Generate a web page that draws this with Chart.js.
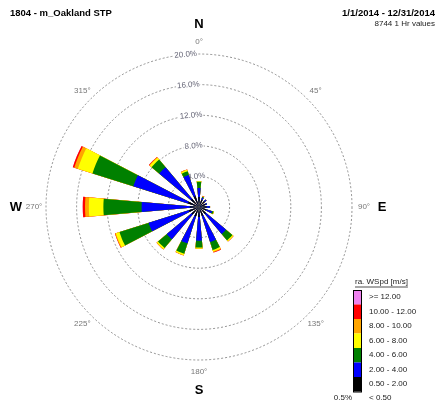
<!DOCTYPE html>
<html>
<head>
<meta charset="utf-8">
<script src="https://cdn.jsdelivr.net/npm/chart.js@4.4.0/dist/chart.umd.min.js"></script>
<style>
  html, body { margin: 0; padding: 0; background: #fff; }
  #wrap { width: 438px; height: 407px; }
</style>
</head>
<body>
<div id="wrap"><canvas id="rose" width="438" height="407"></canvas></div>
<script>
// wind directions, clockwise from north
const directions = ['N', 'NNE', 'NE', 'ENE', 'E', 'ESE', 'SE', 'SSE', 'S', 'SSW', 'SW', 'WSW', 'W', 'WNW', 'NW', 'NNW'];

// frequency (%) per speed class, per direction
const spd0520 = [1.3, 1.0, 1.0, 0.9, 1.0, 1.0, 1.2, 1.2, 1.3, 1.3, 1.3, 1.4, 1.2, 1.5, 1.4, 1.5];
const spd2040 = [1.2, 0.3, 0.3, 0.2, 0.4, 0.8, 3.4, 3.6, 3.1, 3.7, 4.2, 5.5, 6.3, 7.5, 5.4, 2.9];
const spd4060 = [0.8, 0.1, 0, 0, 0.05, 0.2, 1.1, 1.1, 0.9, 1.4, 1.5, 4.0, 5.0, 5.6, 1.3, 0.5];
const spd6080 = [0.1, 0.05, 0, 0, 0, 0.05, 0.15, 0.2, 0.15, 0.2, 0.2, 0.5, 1.9, 2.0, 0.3, 0.2];
const spd8010 = [0, 0.05, 0, 0, 0, 0, 0.05, 0.1, 0, 0.05, 0.05, 0.1, 0.5, 0.5, 0.1, 0.05];
const spd1012 = [0, 0.03, 0, 0, 0, 0, 0, 0.05, 0, 0, 0, 0.03, 0.3, 0.2, 0.05, 0];
const spd12up = [0, 0, 0, 0, 0, 0, 0, 0, 0, 0, 0, 0, 0, 0, 0, 0];
const calmPct = 0.5;

const classLabels = ['0.50 - 2.00', '2.00 - 4.00', '4.00 - 6.00', '6.00 - 8.00', '8.00 - 10.00', '10.00 - 12.00', '>= 12.00'];
const classColors = ['#000000', '#0000ff', '#008000', '#ffff00', '#ffa500', '#ff0000', '#ee82ee'];
const ringTicks = [4, 8, 12, 16, 20];
const degreeLabels = [0, 45, 90, 135, 180, 225, 270, 315];
const compass = [['N', 0], ['E', 90], ['S', 180], ['W', 270]];

const FONT = "'Liberation Sans', Arial, sans-serif";
const BAR_DEG = 10;
const GAP_DEG = 22.5 - BAR_DEG;

// stack classes into cumulative radii, with a zero gap slot after every bar
const classes = [spd0520, spd2040, spd4060, spd6080, spd8010, spd1012, spd12up];
const running = directions.map(() => 0);
const datasets = classes.map((vals, k) => {
  const data = [];
  vals.forEach((v, i) => {
    running[i] += v;
    data.push(+running[i].toFixed(3));
    data.push(0);
  });
  return {
    label: classLabels[k],
    data: data,
    backgroundColor: classColors[k],
    borderWidth: 0,
    angle: (c) => (c.dataIndex % 2 === 0 ? BAR_DEG : GAP_DEG),
  };
});

const slotLabels = [];
directions.forEach((d) => {
  slotLabels.push(d);
  slotLabels.push('');
});

const pt = (cx, cy, deg, rad) => {
  const a = (deg * Math.PI) / 180;
  return [cx + Math.sin(a) * rad, cy - Math.cos(a) * rad];
};

const roseText = {
  id: 'roseText',
  afterDraw(chart) {
    const ctx = chart.ctx;
    const r = chart.scales.r;
    const cx = r.xCenter;
    const cy = r.yCenter;
    const outer = r.getDistanceFromCenterForValue(r.max);
    ctx.save();
    ctx.textBaseline = 'middle';

    // header
    ctx.fillStyle = '#000';
    ctx.font = 'bold 9.5px ' + FONT;
    ctx.textAlign = 'left';
    ctx.fillText('1804 - m_Oakland STP', 10, 13);
    ctx.textAlign = 'right';
    ctx.fillText('1/1/2014 - 12/31/2014', 435, 13);
    ctx.font = '8px ' + FONT;
    ctx.fillStyle = '#222';
    ctx.fillText('8744 1 Hr values', 435, 24);

    // degree labels
    ctx.textAlign = 'center';
    ctx.font = '8px ' + FONT;
    ctx.fillStyle = '#777';
    degreeLabels.forEach((deg) => {
      const [x, y] = pt(cx, cy, deg, outer + 12);
      ctx.fillText(deg + '°', x, y);
    });

    // compass letters
    ctx.font = 'bold 13px ' + FONT;
    ctx.fillStyle = '#000';
    compass.forEach(([txt, deg]) => {
      const [x, y] = pt(cx, cy, deg, outer + 30);
      ctx.fillText(txt, x, y);
    });

    // speed legend
    const lx = 353;
    const ly = 290;
    const bw = 8;
    const bh = 14.5;
    ctx.font = '8px ' + FONT;
    ctx.fillStyle = '#222';
    ctx.textAlign = 'left';
    const head = 'ra. WSpd [m/s]';
    ctx.fillText(head, 355, 282);
    const hw = ctx.measureText(head).width;
    ctx.strokeStyle = '#222';
    ctx.lineWidth = 0.8;
    ctx.beginPath();
    ctx.moveTo(355, 287);
    ctx.lineTo(355 + hw, 287);
    ctx.stroke();

    for (let k = classLabels.length - 1, row = 0; k >= 0; k--, row++) {
      const y = ly + row * bh;
      ctx.fillStyle = classColors[k];
      ctx.fillRect(lx, y, bw, bh);
      ctx.fillStyle = '#222';
      ctx.fillText(classLabels[k], 369, y + bh / 2);
    }
    ctx.strokeStyle = '#000';
    ctx.lineWidth = 1;
    ctx.strokeRect(lx + 0.5, ly + 0.5, bw, bh * classLabels.length);
    ctx.fillText('< 0.50', 369, 398);
    ctx.textAlign = 'right';
    ctx.fillText(calmPct.toFixed(1) + '%', 352, 398);
    ctx.restore();
  },
};

new Chart(document.querySelector('#rose'), {
  type: 'polarArea',
  data: { labels: slotLabels, datasets: datasets },
  options: {
    responsive: false,
    animation: false,
    layout: { padding: { left: 41, right: 80, top: 49, bottom: 41 } },
    plugins: {
      legend: { display: false },
      tooltip: { enabled: false },
    },
    scales: {
      r: {
        min: 0,
        max: 20,
        startAngle: -BAR_DEG / 2,
        afterBuildTicks: (axis) => {
          axis.ticks = [0].concat(ringTicks).map((v) => ({ value: v }));
        },
        ticks: {
          stepSize: 4,
          callback: (v) => v.toFixed(1) + '%',
          font: { size: 8, family: FONT },
          color: '#667',
          backdropColor: '#fff',
          backdropPadding: 1,
        },
        grid: { circular: true, color: '#777', lineWidth: 0.8 },
        border: { dash: [2, 2] },
        angleLines: { display: false },
        pointLabels: { display: false },
      },
    },
  },
  plugins: [roseText],
});
</script>
</body>
</html>
